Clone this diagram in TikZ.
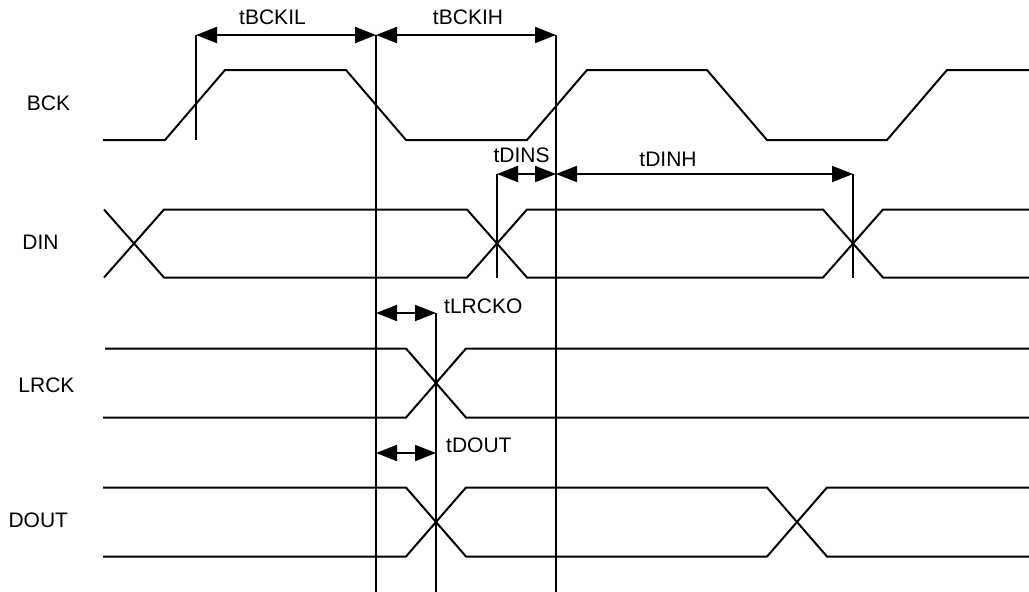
\documentclass[tikz,border=0pt]{standalone}
\usepackage{fontspec}
\setmainfont{Liberation Sans}
\usetikzlibrary{arrows.meta}
\begin{document}
\begin{tikzpicture}[x=1pt,y=-1pt,
  sig/.style={line width=2pt, line join=miter, line cap=butt},
  vline/.style={line width=2pt},
  dim/.style={line width=2pt, {Triangle[length=21pt,width=16pt]}-{Triangle[length=21pt,width=16pt]}},
  lbl/.style={inner sep=0pt, font=\fontsize{21}{25}\selectfont}]
\useasboundingbox (0,0) rectangle (1029,592);
% coordinates for timing markers
\coordinate (v1t) at (196,35);   \coordinate (v1b) at (196,140);
\coordinate (v2t) at (376,35);   \coordinate (v2b) at (376,600);
\coordinate (v3t) at (556,35);   \coordinate (v3b) at (556,600);
\coordinate (v4t) at (497,174);  \coordinate (v4b) at (497,278);
\coordinate (v3m) at (556,174);
\coordinate (v5t) at (853,174);  \coordinate (v5b) at (853,278);
\coordinate (v2a) at (376,313);  \coordinate (v6t) at (436,313);
\coordinate (v6b) at (436,600);
\coordinate (v2c) at (376,453);  \coordinate (v6c) at (436,453);
% signal labels
\node[lbl] (lbck)  at (48.5,103) {BCK};
\node[lbl] (ldin)  at (40.5,242) {DIN};
\node[lbl] (llrck) at (46.5,385) {LRCK};
\node[lbl] (ldout) at (38.3,520) {DOUT};
% BCK
\draw[sig] (103,140) -- (165,140) -- (225,70) -- (346,70) -- (406,140) -- (527,140)
  -- (587,70) -- (707,70) -- (767,140) -- (887,140) -- (947,70) -- (1029,70);
% DIN
\draw[sig] (104,209.5) -- (164,277.5) -- (467,277.5) -- (527,209.5) -- (823,209.5) -- (883,277.5) -- (1029,277.5);
\draw[sig] (104,277.5) -- (164,209.5) -- (467,209.5) -- (527,277.5) -- (823,277.5) -- (883,209.5) -- (1029,209.5);
% LRCK
\draw[sig] (105,348.5) -- (406,348.5) -- (466,417.5) -- (1029,417.5);
\draw[sig] (103,417.5) -- (406,417.5) -- (466,348.5) -- (1029,348.5);
% DOUT
\draw[sig] (103,487.5) -- (406,487.5) -- (466,556.5) -- (767,556.5) -- (827,487.5) -- (1029,487.5);
\draw[sig] (103,556.5) -- (406,556.5) -- (466,487.5) -- (767,487.5) -- (827,556.5) -- (1029,556.5);
% vertical markers
\draw[vline] (v1t) -- (v1b);
\draw[vline] (v2t) -- (v2b);
\draw[vline] (v3t) -- (v3b);
\draw[vline] (v4t) -- (v4b);
\draw[vline] (v5t) -- (v5b);
\draw[vline] (v6t) -- (v6b);
% dimension arrows
\draw[dim] (v1t) -- (v2t);
\draw[dim] (v2t) -- (v3t);
\draw[dim] (v4t) -- (v3m);
\draw[dim] (v3m) -- (v5t);
\draw[dim] (v2a) -- (v6t);
\draw[dim] (v2c) -- (v6c);
% timing labels
\node[lbl] (tbckil) at (272.5,17) {tBCKIL};
\node[lbl] (tbckih) at (468,17) {tBCKIH};
\node[lbl] (tdins)  at (521.5,155) {tDINS};
\node[lbl] (tdinh)  at (668,159) {tDINH};
\node[lbl, anchor=west] (tlrcko) at (444,306) {tLRCKO};
\node[lbl, anchor=west] (tdout)  at (446,445) {tDOUT};
\end{tikzpicture}
\end{document}
